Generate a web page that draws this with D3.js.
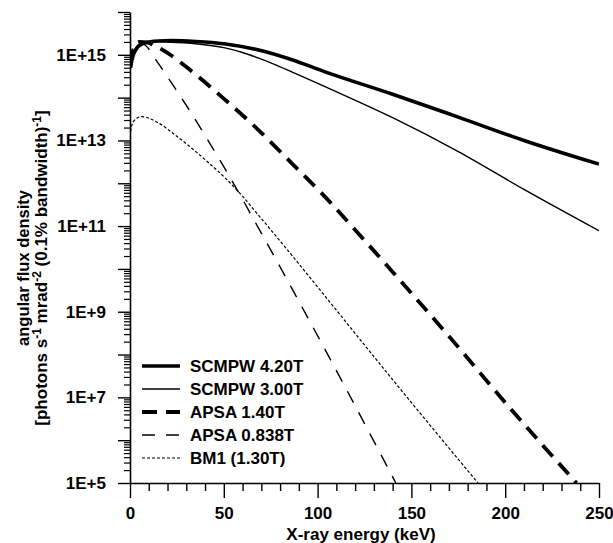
<!DOCTYPE html>
<html>
<head>
<meta charset="utf-8">
<script src="https://cdn.jsdelivr.net/npm/d3@7"></script>
<style>
  body { margin: 0; background: #fff; }
  svg text { font-family: "Liberation Sans", Arial, sans-serif; font-weight: bold; fill: #000; }
</style>
</head>
<body>
<svg id="chart" width="613" height="543"></svg>
<script>
// values, [energy keV, angular flux density]
const scmpw420 = [[0.3, 5e14], [1, 7.5e14], [3, 1.3e15], [8, 1.9e15], [15, 2.1e15], [22, 2.15e15],
  [35, 2.05e15], [50, 1.82e15], [68, 1.32e15], [86, 7.8e14], [104, 4.0e14], [140, 1.2e14],
  [175, 3.5e13], [210, 1.0e13], [250, 2.8e12]];
const scmpw300 = [[0.3, 6e14], [1, 8.5e14], [3, 1.45e15], [7, 1.95e15], [12, 2.05e15], [20, 2.0e15],
  [35, 1.82e15], [50.6, 1.45e15], [59.5, 1.15e15], [68.2, 8.5e14], [77, 6.0e14], [86.2, 4.0e14],
  [104, 1.8e14], [140, 3.4e13], [175, 5.5e12], [210, 7.2e11], [250, 7.8e10]];
const apsa140 = [[0.3, 6e14], [2, 1.5e15], [5, 2.0e15], [9, 1.95e15], [13, 1.65e15], [18.7, 1.2e15],
  [33, 4.1e14], [50.6, 9.0e13], [68.2, 1.8e13], [86, 3.0e12], [104, 4.8e11], [121.5, 6.9e10],
  [140, 8.5e9], [170.6, 2.5e8], [202.6, 5.6e6], [238, 1e5]];
const apsa0838 = [[0.3, 7e14], [2, 1.7e15], [4, 2.05e15], [6, 1.9e15], [8, 1.7e15], [14.9, 6.5e14],
  [24, 1.66e14], [32.9, 4.2e13], [41.6, 1.0e13], [50.6, 2.2e12], [59.5, 4.6e11], [68.2, 9.5e10],
  [77.2, 1.86e10], [86.2, 3.55e9], [112, 2.9e7], [141.7, 1e5]];
const bm1 = [[0.3, 1.6e13], [1.6, 2.7e13], [6.2, 3.6e13], [14.9, 2.6e13], [24, 1.35e13], [32.9, 6.6e12],
  [41.6, 3.1e12], [50.6, 1.35e12], [59.5, 5.25e11], [68.2, 1.86e11], [86.2, 2.1e10], [104, 2.3e9],
  [144, 1.58e7], [185.5, 1e5]];

const seriesNames = ["SCMPW 4.20T", "SCMPW 3.00T", "APSA 1.40T", "APSA 0.838T", "BM1 (1.30T)"];
const seriesData = [scmpw420, scmpw300, apsa140, apsa0838, bm1];
const seriesWidth = [3.6, 1.4, 3.8, 1.4, 1.2];
const seriesDash = [null, null, "15,9", "13,11", "3,2"];

const xTicks = [0, 50, 100, 150, 200, 250];
const yExps = d3.range(5, 17);

const margin = { left: 130, right: 14, top: 12, bottom: 60 };
const width = 613, height = 543;
const svg = d3.select("#chart");

const x = d3.scaleLinear().domain([0, 250]).range([margin.left, width - margin.right]);
const y = d3.scaleLog().domain([1e5, 1e16]).range([height - margin.bottom, margin.top]);

svg.append("defs").append("clipPath").attr("id", "clip")
  .append("rect")
  .attr("x", x(0)).attr("y", y(1e16))
  .attr("width", x(250) - x(0)).attr("height", y(1e5) - y(1e16));

// y axis: minor ticks, then decades
const yMinor = [];
yExps.slice(0, -1).forEach(e => d3.range(2, 10).forEach(m => yMinor.push(m * Math.pow(10, e))));

svg.append("g")
  .attr("transform", `translate(${x(0)},0)`)
  .call(d3.axisLeft(y).tickValues(yMinor).tickSize(6).tickFormat(""))
  .call(g => g.select(".domain").remove())
  .call(g => g.selectAll("line").attr("stroke-width", 1.2));

svg.append("g")
  .attr("transform", `translate(${x(0)},0)`)
  .call(d3.axisLeft(y)
    .tickValues(yExps.map(e => Math.pow(10, e)))
    .tickSize(12).tickSizeOuter(0).tickPadding(12)
    .tickFormat(d => {
      const e = Math.round(Math.log10(d));
      return e % 2 === 1 ? "1E+" + e : "";
    }))
  .call(g => g.select(".domain").attr("stroke-width", 1.6))
  .call(g => g.selectAll("line").attr("stroke-width", 1.4))
  .call(g => g.selectAll("text").style("font-size", "17px").style("font-family", null));

// x axis
svg.append("g")
  .attr("transform", `translate(0,${y(1e5)})`)
  .call(d3.axisBottom(x).tickValues(d3.range(0, 251, 10).filter(v => v % 50 !== 0))
    .tickSize(8).tickFormat(""))
  .call(g => g.select(".domain").remove())
  .call(g => g.selectAll("line").attr("stroke-width", 1.4));

svg.append("g")
  .attr("transform", `translate(0,${y(1e5)})`)
  .call(d3.axisBottom(x).tickValues(xTicks).tickSize(15).tickSizeOuter(0).tickPadding(9))
  .call(g => g.select(".domain").attr("stroke-width", 1.6))
  .call(g => g.selectAll("line").attr("stroke-width", 1.4))
  .call(g => g.selectAll("text").style("font-size", "17px").style("font-family", null));

// axis titles
svg.append("text")
  .attr("x", 361)
  .attr("y", 540)
  .attr("text-anchor", "middle")
  .style("font-size", "17px")
  .text("X-ray energy (keV)");

const yTitle = svg.append("g").attr("transform", "translate(0,268) rotate(-90)");
yTitle.append("text")
  .attr("x", 0).attr("y", 29)
  .attr("text-anchor", "middle")
  .style("font-size", "16.5px")
  .text("angular flux density");

const t2 = yTitle.append("text")
  .attr("x", 0).attr("y", 47)
  .attr("text-anchor", "middle")
  .style("font-size", "17px");
t2.append("tspan").text("[photons s");
t2.append("tspan").attr("dy", -6).style("font-size", "12px").text("-1");
t2.append("tspan").attr("dy", 6).text(" mrad");
t2.append("tspan").attr("dy", -6).style("font-size", "12px").text("-2");
t2.append("tspan").attr("dy", 6).text(" (0.1% bandwidth)");
t2.append("tspan").attr("dy", -6).style("font-size", "12px").text("-1");
t2.append("tspan").attr("dy", 6).text("]");

// curves
const line = d3.line()
  .x(d => x(d[0]))
  .y(d => y(d[1]))
  .curve(d3.curveMonotoneX);

svg.append("g").attr("clip-path", "url(#clip)")
  .selectAll("path")
  .data(seriesData)
  .join("path")
  .attr("d", line)
  .attr("fill", "none")
  .attr("stroke", "#000")
  .attr("stroke-width", (d, i) => seriesWidth[i])
  .attr("stroke-dasharray", (d, i) => seriesDash[i]);

// legend
const legend = svg.append("g").attr("transform", "translate(142,366)");
const rows = legend.selectAll("g")
  .data(seriesNames)
  .join("g")
  .attr("transform", (d, i) => `translate(0,${i * 23})`);
rows.append("line")
  .attr("x1", 0).attr("x2", 38)
  .attr("stroke", "#000")
  .attr("stroke-width", (d, i) => seriesWidth[i])
  .attr("stroke-dasharray", (d, i) => seriesDash[i]);
rows.append("text")
  .attr("x", 48).attr("y", 6)
  .style("font-size", "17px")
  .text(d => d);
</script>
</body>
</html>
